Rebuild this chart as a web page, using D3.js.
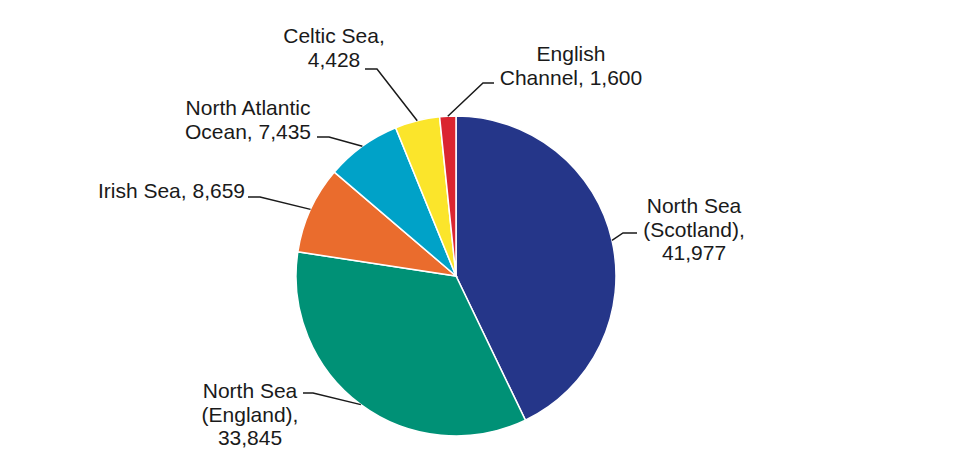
<!DOCTYPE html>
<html>
<head>
<meta charset="utf-8">
<script src="https://cdn.jsdelivr.net/npm/d3@7"></script>
<style>
  body { margin: 0; background: #fff; }
  svg text { font-family: "Liberation Sans", Arial, sans-serif; font-size: 21px; fill: #1a1a1a; }
</style>
</head>
<body>
<svg id="chart"></svg>
<script>
// data
const regions = ['North Sea (Scotland)', 'North Sea (England)', 'Irish Sea', 'North Atlantic Ocean', 'Celtic Sea', 'English Channel'];
const values = [41977, 33845, 8659, 7435, 4428, 1600];
const labelLines = [
    ['North Sea', '(Scotland),', '41,977'],
    ['North Sea', '(England),', '33,845'],
    ['Irish Sea, 8,659'],
    ['North Atlantic', 'Ocean, 7,435'],
    ['Celtic Sea,', '4,428'],
    ['English', 'Channel, 1,600']
];
const colors = ['#253689', '#009176', '#ea6c2d', '#00a2c8', '#fbe52b', '#da2530'];

// layout of labels: text anchor point, elbow of leader, end of leader
const labelLayout = [
    { tx: 694, ty: 205, anchor: 'middle', elbow: [623, 233], end: [637, 233] },
    { tx: 250, ty: 390, anchor: 'middle', elbow: [313, 393], end: [303, 393] },
    { tx: 245, ty: 190, anchor: 'end',    elbow: [260, 197], end: [248, 197] },
    { tx: 248, ty: 107, anchor: 'middle', elbow: [329, 137], end: [317, 137] },
    { tx: 334, ty: 35,  anchor: 'middle', elbow: [377, 69],  end: [365, 69] },
    { tx: 571, ty: 53,  anchor: 'middle', elbow: [483, 83],  end: [494, 83] }
];

const width = 960, height = 475;
const cx = 456, cy = 276, radius = 160;
const lineHeight = 23.5;

const svg = d3.select('#chart')
    .attr('width', width)
    .attr('height', height);

const data = regions.map((r, i) => ({ region: r, value: values[i], i: i }));

const pie = d3.pie()
    .value(d => d.value)
    .sort(null);

const arc = d3.arc()
    .innerRadius(0)
    .outerRadius(radius);

const edgeArc = d3.arc()
    .innerRadius(radius)
    .outerRadius(radius);

const arcs = pie(data);

const g = svg.append('g')
    .attr('transform', `translate(${cx},${cy})`);

g.selectAll('path.slice')
    .data(arcs)
    .join('path')
    .attr('class', 'slice')
    .attr('d', arc)
    .attr('fill', d => colors[d.data.i])
    .attr('stroke', '#fff')
    .attr('stroke-width', 1.5);

// leader lines
svg.selectAll('polyline.leader')
    .data(arcs)
    .join('polyline')
    .attr('class', 'leader')
    .attr('fill', 'none')
    .attr('stroke', '#1a1a1a')
    .attr('stroke-width', 1.5)
    .attr('points', d => {
        const c = edgeArc.centroid(d);
        const l = labelLayout[d.data.i];
        return [[cx + c[0], cy + c[1]], l.elbow, l.end].map(p => p.join(',')).join(' ');
    });

// labels
const labels = svg.selectAll('text.label')
    .data(arcs)
    .join('text')
    .attr('class', 'label')
    .attr('text-anchor', d => labelLayout[d.data.i].anchor)
    .attr('dominant-baseline', 'central');

labels.each(function(d) {
    const l = labelLayout[d.data.i];
    d3.select(this).selectAll('tspan')
        .data(labelLines[d.data.i])
        .join('tspan')
        .attr('x', l.tx)
        .attr('y', (t, k) => l.ty + k * lineHeight)
        .text(t => t);
});
</script>
</body>
</html>
